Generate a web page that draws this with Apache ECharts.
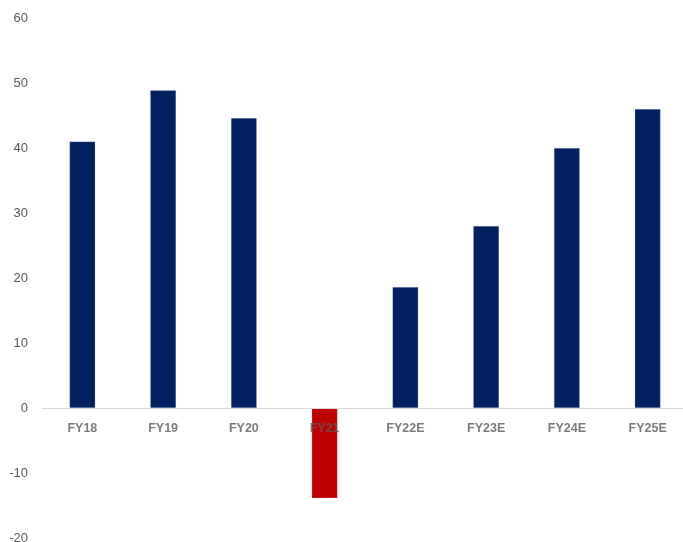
<!DOCTYPE html>
<html>
<head>
<meta charset="utf-8">
<script src="https://cdn.jsdelivr.net/npm/echarts@6/dist/echarts.min.js"></script>
<style>html,body{margin:0;padding:0;background:#fff;}#c{width:683px;height:542px;}</style>
</head>
<body>
<div id="c"></div>
<script>
var categories = ['FY18', 'FY19', 'FY20', 'FY21', 'FY22E', 'FY23E', 'FY24E', 'FY25E'];
var values = [41, 48.9, 44.6, -13.9, 18.6, 28, 40, 46];
var barColors = ['#002060', '#002060', '#002060', '#C00000', '#002060', '#002060', '#002060', '#002060'];
var yTicks = [-20, -10, 0, 10, 20, 30, 40, 50, 60];

var chart = echarts.init(document.getElementById('c'), null, {renderer: 'canvas'});
chart.setOption({
  animation: false,
  backgroundColor: '#ffffff',
  grid: {left: 42, right: -5, top: 18, bottom: 4, containLabel: false, outerBoundsMode: 'none'},
  xAxis: {
    type: 'category',
    data: categories,
    z: 10,
    axisLine: {show: true, onZero: true, lineStyle: {color: '#d9d9d9', width: 1}},
    axisTick: {show: false},
    axisLabel: {show: false},
    splitLine: {show: false}
  },
  yAxis: {
    type: 'value',
    min: yTicks[0],
    max: yTicks[yTicks.length - 1],
    interval: 10,
    axisLine: {show: false},
    axisTick: {show: false},
    splitLine: {show: false},
    axisLabel: {color: '#595959', fontSize: 13, fontFamily: 'Liberation Sans', margin: 14}
  },
  series: [{
    type: 'bar',
    z: 2,
    barWidth: '32%',
    data: values.map(function (v, i) {
      return {value: v, itemStyle: {color: barColors[i]}};
    }),
    itemStyle: {borderColor: 'rgba(255,255,255,0.35)', borderWidth: 0.5}
  }, {
    type: 'scatter',
    z: 5,
    symbolSize: 0,
    silent: true,
    data: categories.map(function (c) { return [c, 0]; }),
    label: {
      show: true,
      position: 'bottom',
      distance: 14,
      formatter: function (p) { return p.data[0]; },
      color: '#595959',
      fontWeight: 'bold',
      fontSize: 12.5,
      fontFamily: 'Liberation Sans'
    }
  }]
});
</script>
</body>
</html>
